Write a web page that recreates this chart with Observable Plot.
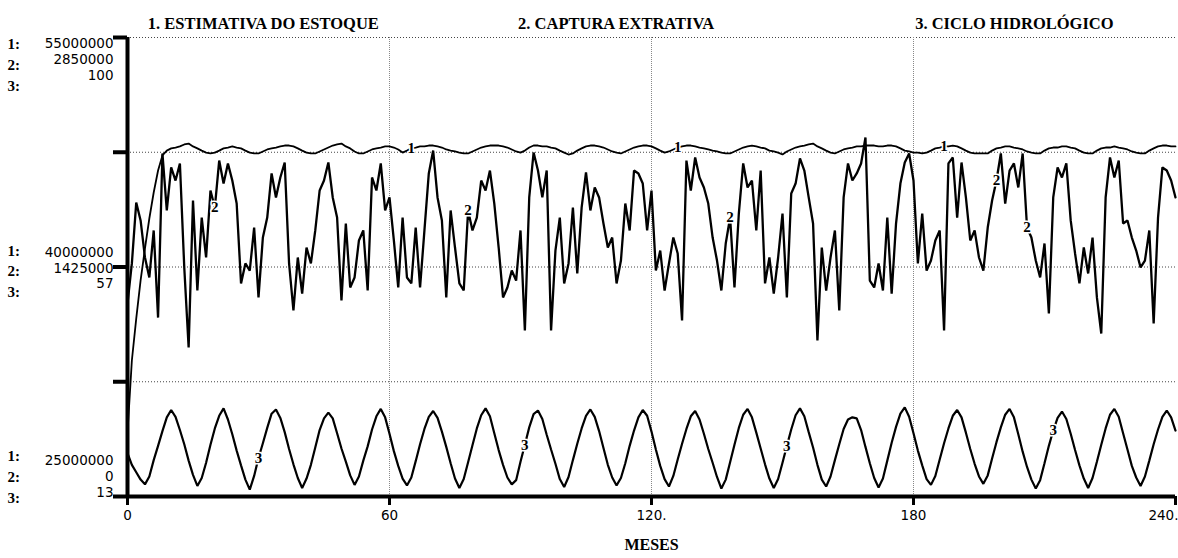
<!DOCTYPE html>
<html><head><meta charset="utf-8">
<script src="https://cdn.jsdelivr.net/npm/d3@7"></script>
<script src="https://cdn.jsdelivr.net/npm/@observablehq/plot@0.6"></script>
<style>html,body{margin:0;padding:0;background:#fff;overflow:hidden}</style>
</head><body><div id="chart"></div>
<script>
// ---------- DADOS ----------
const titulos = ["1. ESTIMATIVA DO ESTOQUE", "2. CAPTURA EXTRATIVA", "3. CICLO HIDROLÓGICO"];
const rotuloEixoX = "MESES";
const ticksX = [0, 60, 120, 180, 240];
const rotulosTicksX = ["0", "60", "120.", "180", "240."];
// escalas (mín, meio, máx) de cada série
const eixo1 = [25000000, 40000000, 55000000];
const eixo2 = [0, 1425000, 2850000];
const eixo3 = [13, 57, 100];

// 1. Estimativa do estoque (milhões), meses 0..240
const estoqueMi = [
29.18,33.89,36.63,39.12,41.21,43.17,44.87,46.31,47.29,47.61,
47.75,47.81,47.88,48.01,48.07,47.88,47.75,47.61,47.48,47.42,
47.48,47.61,47.75,47.81,47.88,47.81,47.75,47.61,47.48,47.42,
47.42,47.55,47.68,47.75,47.81,47.88,47.94,47.94,47.88,47.75,
47.61,47.48,47.42,47.42,47.55,47.68,47.81,47.94,48.01,48.07,
47.88,47.75,47.55,47.42,47.42,47.55,47.68,47.75,47.81,47.88,
47.88,47.81,47.68,47.48,47.61,47.75,47.81,47.88,47.88,47.94,
47.94,47.88,47.81,47.68,47.61,47.55,47.48,47.42,47.42,47.55,
47.68,47.81,47.88,47.94,47.94,47.94,47.88,47.81,47.68,47.55,
47.48,47.61,47.81,47.94,47.94,47.88,47.88,47.81,47.75,47.61,
47.48,47.35,47.42,47.61,47.75,47.88,47.94,47.94,47.88,47.81,
47.68,47.55,47.48,47.42,47.55,47.68,47.81,47.88,47.94,47.94,
47.88,47.75,47.61,47.48,47.55,47.68,47.81,47.88,47.94,47.94,
47.88,47.81,47.75,47.68,47.61,47.55,47.48,47.42,47.42,47.55,
47.68,47.81,47.88,47.94,47.88,47.81,47.75,47.61,47.55,47.48,
47.35,47.55,47.68,47.81,47.88,47.94,48.01,48.07,47.88,47.75,
47.61,47.48,47.42,47.55,47.68,47.75,47.81,47.88,47.88,47.94,
47.94,47.94,47.88,47.88,47.94,47.94,47.88,47.75,47.61,47.55,
47.48,47.48,47.42,47.48,47.61,47.75,47.81,47.88,47.88,47.94,
47.88,47.75,47.61,47.48,47.42,47.42,47.42,47.42,47.61,47.75,
47.81,47.88,47.88,47.81,47.75,47.68,47.55,47.48,47.42,47.42,
47.61,47.75,47.81,47.81,47.88,47.88,47.81,47.75,47.61,47.48,
47.42,47.42,47.61,47.75,47.81,47.81,47.88,47.81,47.75,47.68,
47.55,47.48,47.42,47.42,47.61,47.75,47.88,47.94,47.94,47.88,
47.88
];

// 2. Captura extrativa (milhares), meses 0..240
const capturaMil = [
1198,1447,1825,1714,1484,1360,1652,1111,2130,1776,
2043,1962,2068,1422,925,1838,1279,1732,1484,1900,
1794,2086,1943,2068,1962,1819,1323,1447,1403,1670,
1236,1608,1732,2006,1857,1981,2074,1447,1155,1484,
1260,1546,1447,1652,1900,1962,2074,1857,1732,1217,
1695,1298,1360,1590,1652,1279,1981,1900,2068,1776,
1857,1590,1298,1732,1360,1323,1670,1298,1652,2006,
2148,1857,1714,1236,1776,1546,1323,1279,1776,1652,
1732,1962,1900,2024,1819,1546,1236,1298,1403,1341,
1652,1031,1857,2136,2024,1857,2024,1031,1527,1732,
1323,1447,1794,1385,1794,2012,1776,1919,1857,1695,
1546,1608,1323,1465,1819,1652,2024,2006,1943,1652,
1900,1403,1527,1279,1447,1608,1509,1093,2086,1900,
2105,1981,1919,1819,1608,1465,1279,1571,1732,1298,
1757,2068,1919,1962,1652,2024,1323,1484,1260,1484,
1757,1236,1881,1943,2099,2024,1857,1695,969,1546,
1279,1484,1652,1155,1857,2068,1962,2006,2068,2229,
1341,1298,1447,1279,1732,1260,1695,1943,2074,2130,
1962,1447,1757,1403,1465,1590,1652,1031,2068,2105,
1732,2074,1857,1590,1652,1484,1403,1670,1838,1962,
2130,1819,2024,2068,1919,2130,1670,1608,1465,1360,
1571,1136,1857,2043,1981,2068,1714,1509,1323,1546,
1385,1608,1236,1012,1857,2105,1981,2086,1695,1714,
1608,1527,1422,1465,1652,1074,1732,2043,2024,1962,
1857
];

// 3. Ciclo hidrológico, meses 0..240
const ciclo = [
21.2,19.0,17.6,16.2,15.3,
16.8,19.9,22.6,25.4,28.0,29.4,28.1,25.6,22.9,19.8,17.1,15.0,
16.5,19.4,22.8,25.9,28.3,29.7,27.6,24.8,21.7,18.9,16.2,14.3,
16.9,20.3,23.1,26.0,28.7,29.5,27.9,25.2,22.0,19.1,16.5,14.6,
16.4,19.0,22.3,25.6,27.8,28.9,27.8,25.0,22.1,19.6,17.0,15.2,
16.8,19.8,22.5,25.7,28.2,29.6,28.0,24.9,21.6,18.8,16.4,15.1,
16.6,19.7,22.9,25.8,28.1,29.2,27.9,25.3,22.4,19.3,16.4,14.6,
16.3,19.5,22.7,25.9,28.4,29.7,28.2,25.0,21.8,19.0,16.6,15.3,
16.1,19.6,22.8,26.1,28.6,29.3,27.7,24.7,21.9,19.2,16.3,14.8,
16.7,19.9,23.0,25.9,28.3,29.5,28.1,25.4,22.2,19.0,16.6,15.1,
16.5,19.3,22.6,25.5,28.0,29.4,28.3,25.3,21.9,18.8,16.3,14.9,
16.9,20.0,23.0,25.8,28.2,29.2,27.6,24.9,22.0,19.4,16.7,14.5,
16.2,19.5,22.8,26.0,28.5,29.6,28.0,25.1,22.1,19.1,16.4,14.6,
16.3,19.4,22.6,25.7,28.4,29.7,28.2,25.2,22.3,19.0,16.2,14.9,
16.8,19.9,22.9,25.8,27.6,28.0,27.8,25.6,22.4,19.3,16.5,14.7,
16.4,19.8,23.2,26.2,28.7,29.9,28.1,25.0,21.7,18.9,16.3,15.2,
16.9,20.0,23.1,25.9,28.3,29.4,28.0,25.1,22.0,19.2,16.8,15.4,
17.0,20.2,23.3,26.1,28.5,29.6,28.0,24.8,21.5,18.6,16.2,14.5,
16.1,19.3,22.6,25.5,27.9,29.1,27.7,24.9,21.8,18.9,16.4,14.6,
16.5,19.6,22.8,25.9,28.5,29.6,28.1,25.0,21.9,18.8,16.6,15.0,
16.8,19.8,22.9,25.7,28.1,29.3,28.0,25.5
];

// meses em que o número de cada série é escrito sobre a curva
const rotulo1Meses = [65, 126, 187];
const rotulo2Meses = [20, 78, 138, 199, 206];
const rotulo3Meses = [30, 91, 151, 212];

// ---------- LAYOUT ----------
const tituloMes = [31.1, 111.9, 203.1];
const serif = "'Liberation Serif', 'Times New Roman', serif";
const sans = "'DejaVu Sans', sans-serif";

const norm = (v, e) => (v - e[0]) / (e[2] - e[0]);
const series = [
  {id: 1, valores: estoqueMi.map(v => v * 1e6), eixo: eixo1, rotulos: rotulo1Meses, w: 1.8},
  {id: 2, valores: capturaMil.map(v => v * 1e3), eixo: eixo2, rotulos: rotulo2Meses, w: 2.3},
  {id: 3, valores: ciclo, eixo: eixo3, rotulos: rotulo3Meses, w: 2.2}
];
const linhas = series.map(s => s.valores.map((v, i) => ({mes: i, n: norm(v, s.eixo), serie: s.id})));
const rotulos = series.flatMap(s => s.rotulos.map(m => ({mes: m, n: norm(s.valores[m], s.eixo), t: String(s.id)})));

const grupo = k => `${eixo1[k]}\n${eixo2[k]}\n${eixo3[k]}`;
const numeros = "1:\n2:\n3:";
const ultimo = ticksX.length - 1;

const chart = Plot.plot({
  width: 1178, height: 558,
  marginTop: 37, marginLeft: 127, marginRight: 3, marginBottom: 62,
  style: {fontFamily: sans, fontSize: "13.5px", color: "#000", background: "#fff", overflow: "visible"},
  x: {domain: [0, 240]},
  y: {domain: [0, 1]},
  marks: [
    Plot.gridY({ticks: [0.25, 0.5, 0.75, 1], stroke: "#444", strokeOpacity: 1, strokeDasharray: "1,2"}),
    Plot.gridX({ticks: [60, 120, 180], stroke: "#888", strokeOpacity: 1, strokeDasharray: "1,1"}),
    ...linhas.map((d, k) => Plot.line(d, {x: "mes", y: "n", stroke: "#000", strokeWidth: series[k].w, strokeLinejoin: "miter"})),
    Plot.text(rotulos, {x: "mes", y: "n", text: "t", fontFamily: serif, fontWeight: "bold", fontSize: 15, fill: "#000", stroke: "#fff", strokeWidth: 3}),
    Plot.ruleX([0], {y1: 0, y2: 1, strokeWidth: 4}),
    Plot.ruleY([0], {x1: 0, x2: 240, strokeWidth: 4}),
    Plot.axisY({ticks: [0, 0.25, 0.5, 0.75, 1], tickSize: 14, strokeWidth: 4, tickFormat: () => "", label: null}),
    Plot.axisX({ticks: ticksX, tickSize: 9, strokeWidth: 3, tickFormat: () => "", label: null}),
    // rótulos dos ticks do eixo X (o último encostado à borda direita)
    Plot.text(ticksX.slice(0, ultimo), {x: d => d, text: d => rotulosTicksX[ticksX.indexOf(d)], frameAnchor: "bottom", dy: 23, fontSize: 13.5}),
    Plot.text([ticksX[ultimo]], {x: d => d, text: [rotulosTicksX[ultimo]], frameAnchor: "bottom", dy: 23, dx: 3, textAnchor: "end", fontSize: 13.5}),
    // rótulos de escala à esquerda
    Plot.text([grupo(2)], {y: [1], frameAnchor: "left", dx: -14, textAnchor: "end", lineAnchor: "top", lineHeight: 1.18, dy: -1, fontSize: 13.5}),
    Plot.text([grupo(1)], {y: [0.5], frameAnchor: "left", dx: -14, textAnchor: "end", lineAnchor: "middle", lineHeight: 1.15, dy: 1, fontSize: 13.5}),
    Plot.text([grupo(0)], {y: [0], frameAnchor: "left", dx: -14, textAnchor: "end", lineAnchor: "bottom", lineHeight: 1.15, dy: 0, fontSize: 13.5}),
    Plot.text([numeros], {y: [1], frameAnchor: "left", dx: -120, textAnchor: "start", lineAnchor: "top", lineHeight: 1.4, dy: -3, fontFamily: serif, fontWeight: "bold", fontSize: 15}),
    Plot.text([numeros], {y: [0.5], frameAnchor: "left", dx: -120, textAnchor: "start", lineAnchor: "middle", lineHeight: 1.35, dy: 3, fontFamily: serif, fontWeight: "bold", fontSize: 15}),
    Plot.text([numeros], {y: [0], frameAnchor: "left", dx: -120, textAnchor: "start", lineAnchor: "bottom", lineHeight: 1.37, dy: 6, fontFamily: serif, fontWeight: "bold", fontSize: 15}),
    // títulos e rótulo do eixo
    Plot.text(titulos, {x: tituloMes, frameAnchor: "top", dy: -20, fontFamily: serif, fontWeight: "bold", fontSize: 16.5}),
    Plot.text([rotuloEixoX], {frameAnchor: "bottom", dy: 53, fontFamily: serif, fontWeight: "bold", fontSize: 16})
  ]
});
document.getElementById("chart").appendChild(chart);
</script>
</body></html>
